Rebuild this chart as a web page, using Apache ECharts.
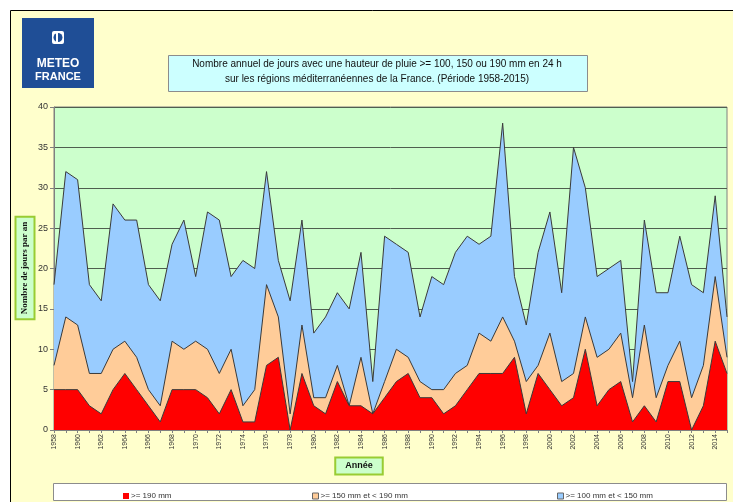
<!DOCTYPE html>
<html>
<head>
<meta charset="utf-8">
<title>Pluies intenses - régions méditerranéennes</title>
<script src="https://cdn.jsdelivr.net/npm/echarts@6/dist/echarts.min.js"></script>
<style>
  html, body { margin: 0; padding: 0; background: #fff; }
  #chart { width: 733px; height: 502px; }
</style>
</head>
<body>
<div id="chart"></div>
<script>
// années 1958 -> 2015
let years = ['1958', '1959', '1960', '1961', '1962', '1963', '1964', '1965', '1966', '1967',
  '1968', '1969', '1970', '1971', '1972', '1973', '1974', '1975', '1976', '1977',
  '1978', '1979', '1980', '1981', '1982', '1983', '1984', '1985', '1986', '1987',
  '1988', '1989', '1990', '1991', '1992', '1993', '1994', '1995', '1996', '1997',
  '1998', '1999', '2000', '2001', '2002', '2003', '2004', '2005', '2006', '2007',
  '2008', '2009', '2010', '2011', '2012', '2013', '2014', '2015']

// nombre de jours >= 100 mm (haut de la zone bleue)
let days100 = [18, 32, 31, 18, 16, 28, 26, 26, 18, 16,
  23, 26, 19, 27, 26, 19, 21, 20, 32, 21,
  16, 26, 12, 14, 17, 15, 22, 6, 24, 23,
  22, 14, 19, 18, 22, 24, 23, 24, 38, 19,
  13, 22, 27, 17, 35, 30, 19, 20, 21, 6,
  26, 17, 17, 24, 18, 17, 29, 14]

// nombre de jours >= 150 mm (haut de la zone saumon)
let days150 = [8, 14, 13, 7, 7, 10, 11, 9, 5, 3,
  11, 10, 11, 10, 7, 10, 3, 5, 18, 14,
  2, 13, 4, 4, 8, 3, 9, 2, 6, 10,
  9, 6, 5, 5, 7, 8, 12, 11, 14, 11,
  6, 8, 12, 6, 7, 14, 9, 10, 12, 4,
  13, 4, 8, 11, 4, 8, 19, 9]

// nombre de jours >= 190 mm (zone rouge)
let days190 = [5, 5, 5, 3, 2, 5, 7, 5, 3, 1,
  5, 5, 5, 4, 2, 5, 1, 1, 8, 9,
  0, 7, 3, 2, 6, 3, 3, 2, 4, 6,
  7, 4, 4, 2, 3, 5, 7, 7, 7, 9,
  2, 7, 5, 3, 4, 10, 3, 5, 6, 1,
  3, 1, 6, 6, 0, 3, 11, 7]

let yTicks = [0, 40, 5]

let names = ['>= 190 mm', '>= 150 mm et < 190 mm', '>= 100 mm et < 150 mm']
let colors = ['#FF0000', '#FFCC99', '#99CCFF']

let chart = echarts.init(document.getElementById('chart'))

function area (name, data, color, z) {
  return {
    name: name,
    type: 'line',
    data: data,
    symbol: 'none',
    z: z,
    lineStyle: { color: '#3a3a3a', width: 1 },
    itemStyle: { color: color },
    areaStyle: { color: color, opacity: 1 },
    emphasis: { disabled: true }
  }
}

function legendItem (name, color, left, border) {
  return {
    left: left,
    top: 487,
    icon: 'rect',
    itemWidth: 6,
    itemHeight: 6,
    itemGap: 2,
    selectedMode: false,
    textStyle: { fontFamily: 'Liberation Sans', fontSize: 8, color: '#333', padding: [0, 0, 0, -3] },
    itemStyle: { color: color, borderColor: border, borderWidth: border ? 1 : 0 },
    lineStyle: { width: 0 },
    data: [name]
  }
}

chart.setOption({
  animation: false,
  backgroundColor: '#fff',
  graphic: [
    // cadre jaune
    { type: 'rect', left: 10, top: 10, shape: { width: 740, height: 510 }, style: { fill: '#FFFFCC', stroke: '#000', lineWidth: 1 }, z: -10 },
    // logo
    { type: 'rect', left: 22, top: 18, shape: { width: 72, height: 70 }, style: { fill: '#1F4E96' }, z: -5 },
    { type: 'rect', left: 52, top: 31, shape: { width: 12, height: 13, r: 2 }, style: { fill: '#fff' }, z: -4 },
    { type: 'circle', shape: { cx: 58, cy: 37.5, r: 4.5 }, style: { fill: '#1F4E96' }, z: -3 },
    { type: 'rect', left: 56, top: 33, shape: { width: 2, height: 9 }, style: { fill: '#fff' }, z: -2 },
    { type: 'text', left: 'auto', x: 58, y: 58, style: { text: 'METEO', fill: '#fff', font: 'bold 12px "Liberation Sans"', textAlign: 'center' }, z: -2 },
    { type: 'text', x: 58, y: 71, style: { text: 'FRANCE', fill: '#fff', font: 'bold 11px "Liberation Sans"', textAlign: 'center' }, z: -2 },
    // titre
    { type: 'rect', left: 168, top: 55, shape: { width: 419, height: 36 }, style: { fill: '#CCFFFF', stroke: '#8c8c8c', lineWidth: 1 }, z: -2 },
    { type: 'text', x: 377, y: 59, style: { text: 'Nombre annuel de jours avec une hauteur de pluie >= 100, 150 ou 190 mm en 24 h', fill: '#111', font: '10px "Liberation Sans"', textAlign: 'center' } },
    { type: 'text', x: 377, y: 74, style: { text: 'sur les régions méditerranéennes de la France. (Période 1958-2015)', fill: '#111', font: '10px "Liberation Sans"', textAlign: 'center' } },
    // titre axe Y
    {
      type: 'text', x: 25, y: 268, rotation: Math.PI / 2,
      style: {
        text: 'Nombre de jours par an', fill: '#111', font: 'bold 9px "Liberation Serif"',
        textAlign: 'center', textVerticalAlign: 'middle',
        backgroundColor: '#CCFFCC', borderColor: '#99CC33', borderWidth: 2, padding: [4, 4]
      }
    },
    // titre axe X
    {
      type: 'text', x: 359, y: 466,
      style: {
        text: 'Année', fill: '#111', font: 'bold 9px "Liberation Sans"',
        textAlign: 'center', textVerticalAlign: 'middle',
        backgroundColor: '#CCFFCC', borderColor: '#99CC33', borderWidth: 2, padding: [3, 9]
      }
    },
    // cadre légende
    { type: 'rect', left: 53, top: 483, shape: { width: 673, height: 17 }, style: { fill: '#fff', stroke: '#8c8c8c', lineWidth: 1 }, z: -2 }
  ],
  legend: [
    legendItem(names[0], colors[0], 118, null),
    legendItem(names[1], colors[1], 307, '#666'),
    legendItem(names[2], colors[2], 552, '#666')
  ],
  grid: {
    left: 54,
    right: 6,
    top: 107,
    bottom: 72,
    show: true,
    backgroundColor: '#CCFFCC',
    borderColor: '#808080',
    borderWidth: 1
  },
  xAxis: {
    type: 'category',
    boundaryGap: false,
    data: years,
    axisLine: { lineStyle: { color: '#808080' } },
    axisTick: { interval: 0, length: 3, lineStyle: { color: '#808080' } },
    axisLabel: { interval: 1, rotate: 90, fontSize: 7, fontFamily: 'Liberation Sans', color: '#333', margin: 4 }
  },
  yAxis: {
    type: 'value',
    min: yTicks[0],
    max: yTicks[1],
    interval: yTicks[2],
    axisLine: { show: true, lineStyle: { color: '#808080' } },
    axisTick: { show: true, length: 4, lineStyle: { color: '#808080' } },
    axisLabel: { fontSize: 9, fontFamily: 'Liberation Sans', color: '#333', margin: 6 },
    splitLine: { lineStyle: { color: '#4f5f4f', width: 1 } }
  },
  series: [
    area(names[2], days100, colors[2], 2),
    area(names[1], days150, colors[1], 3),
    area(names[0], days190, colors[0], 4)
  ]
})
</script>
</body>
</html>
